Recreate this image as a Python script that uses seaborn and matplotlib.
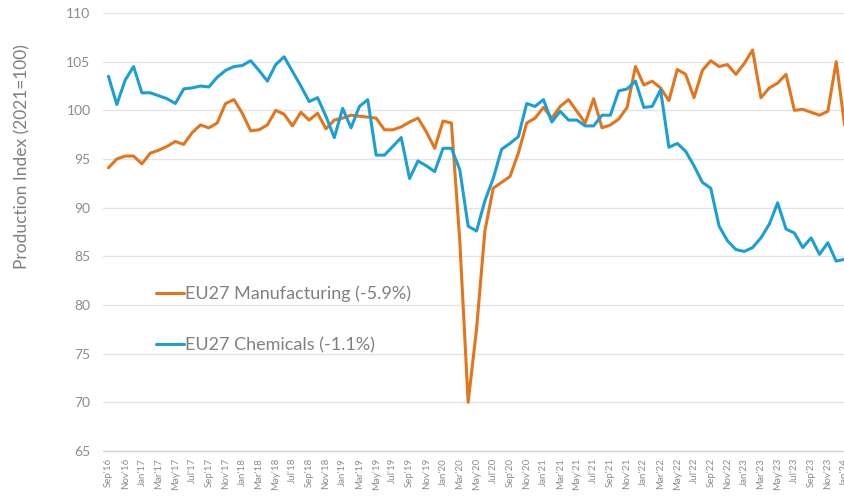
import pandas as pd
import matplotlib
matplotlib.use("Agg")
import matplotlib.pyplot as plt
import seaborn as sns

# monthly index values, Sep'16 .. Jan'24 (2021=100)
manufacturing = [
    94.1, 95.0, 95.3, 95.3, 94.5, 95.6, 95.9, 96.3, 96.8, 96.5, 97.7, 98.5,
    98.2, 98.7, 100.7, 101.1, 99.7, 97.9, 98.0, 98.5, 100.0, 99.6, 98.4, 99.8,
    99.0, 99.7, 98.1, 99.0, 99.2, 99.5, 99.4, 99.3, 99.2, 98.0, 98.0, 98.3,
    98.8, 99.2, 97.8, 96.1, 98.9, 98.7, 86.6, 70.0, 77.5, 87.6, 92.0, 92.6,
    93.2, 95.6, 98.7, 99.2, 100.3, 99.2, 100.4, 101.1, 99.9, 98.7, 101.2, 98.2,
    98.5, 99.1, 100.3, 104.5, 102.6, 103.0, 102.3, 101.0, 104.2, 103.7, 101.3, 104.1,
    105.1, 104.5, 104.7, 103.7, 104.8, 106.2, 101.3, 102.3, 102.8, 103.7, 100.0, 100.1,
    99.8, 99.5, 99.9, 105.0, 98.5,
]
chemicals = [
    103.5, 100.6, 103.1, 104.5, 101.8, 101.8, 101.5, 101.2, 100.7, 102.2, 102.3, 102.5,
    102.4, 103.4, 104.1, 104.5, 104.6, 105.1, 104.1, 103.0, 104.7, 105.5, 104.0, 102.5,
    100.9, 101.3, 99.4, 97.2, 100.2, 98.2, 100.4, 101.1, 95.4, 95.4, 96.3, 97.2,
    93.0, 94.8, 94.3, 93.7, 96.1, 96.1, 93.9, 88.1, 87.6, 90.7, 93.0, 96.0,
    96.6, 97.3, 100.7, 100.4, 101.1, 98.8, 99.9, 99.0, 99.0, 98.4, 98.4, 99.5,
    99.5, 102.0, 102.2, 103.0, 100.3, 100.4, 102.1, 96.2, 96.6, 95.8, 94.3, 92.6,
    92.0, 88.1, 86.6, 85.7, 85.5, 85.9, 86.9, 88.3, 90.5, 87.8, 87.4, 85.9,
    86.9, 85.2, 86.4, 84.5, 84.7,
]
series_names = ["EU27 Manufacturing (-5.9%)", "EU27 Chemicals (-1.1%)"]
series_colors = ["#E2761E", "#1E9FD4"]

# every second month gets a label
tick_labels = [
    "Sep'16", "Nov'16", "Jan'17", "Mar'17", "May'17", "Jul'17", "Sep'17", "Nov'17",
    "Jan'18", "Mar'18", "May'18", "Jul'18", "Sep'18", "Nov'18", "Jan'19", "Mar'19",
    "May'19", "Jul'19", "Sep'19", "Nov'19", "Jan'20", "Mar'20", "May'20", "Jul'20",
    "Sep'20", "Nov'20", "Jan'21", "Mar'21", "May'21", "Jul'21", "Sep'21", "Nov'21",
    "Jan'22", "Mar'22", "May'22", "Jul'22", "Sep'22", "Nov'22", "Jan'23", "Mar'23",
    "May'23", "Jul'23", "Sep'23", "Nov'23", "Jan'24",
]
y_ticks = [65, 70, 75, 80, 85, 90, 95, 100, 105, 110]

sns.set_theme(style="whitegrid")
plt.rcParams["font.family"] = ["Lato", "DejaVu Sans"]

month = list(range(len(manufacturing)))
df = pd.concat([
    pd.DataFrame({"month": month, "value": manufacturing, "series": series_names[0]}),
    pd.DataFrame({"month": month, "value": chemicals, "series": series_names[1]}),
])

fig = plt.figure(figsize=(8.45, 5.04), dpi=100)
ax = fig.add_axes([103 / 845, 53 / 504, 742 / 845, 438 / 504])

sns.lineplot(data=df, x="month", y="value", hue="series",
             palette=dict(zip(series_names, series_colors)),
             linewidth=2.2, ax=ax)

ax.set_xlim(-0.65, 88.05)
ax.set_ylim(65, 110)
ax.set_yticks(y_ticks)
ax.set_xticks(range(0, 2 * len(tick_labels), 2))
ax.set_xticklabels(tick_labels, rotation=90)
ax.set_xlabel("")
ax.set_ylabel("")

ax.grid(axis="x", visible=False)
ax.grid(axis="y", color="#E4E4E4", linewidth=1.0)
for side in ["top", "right", "left"]:
    ax.spines[side].set_visible(False)
ax.spines["bottom"].set_color("#D6D6D6")
ax.spines["bottom"].set_linewidth(1.0)

ax.tick_params(axis="y", length=0, pad=9, labelsize=10, labelcolor="#8C8C8C")
ax.tick_params(axis="x", length=0, pad=5, labelsize=7, labelcolor="#8C8C8C")

fig.text(0.026, 0.69, "Production Index (2021=100)", rotation=90,
         ha="center", va="center", fontsize=12.5, color="#808080")

leg = ax.legend(loc="upper left", bbox_to_anchor=(0.072, 0.378), frameon=False,
                fontsize=13, handlelength=1.55, handletextpad=0.05,
                labelspacing=1.95, borderpad=0, borderaxespad=0)
for text in leg.get_texts():
    text.set_color("#808080")

fig.savefig("out.png", dpi=100)
